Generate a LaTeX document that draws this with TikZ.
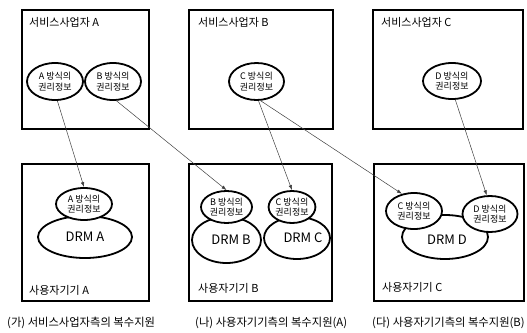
\documentclass[tikz,border=0pt]{standalone}
\usepackage{fontspec}
\setmainfont{Noto Sans CJK KR}
\usetikzlibrary{shapes.geometric,arrows.meta}
\tikzset{
  box/.style={draw, line width=1.9pt, rectangle, inner sep=0pt},
  lbl/.style={anchor=west, inner sep=0pt, font=\fontsize{11}{12}\selectfont},
  captext/.style={anchor=west, inner sep=0pt, font=\fontsize{11.3}{13}\selectfont},
  info/.style={draw, ellipse, line width=1.8pt, fill=white, inner sep=0pt, align=center,
    font=\fontsize{9}{10.5}\selectfont},
  drm/.style={draw, ellipse, line width=1.8pt, fill=white, inner sep=0pt},
  drmtext/.style={font=\fontsize{13}{15}\selectfont, inner sep=0pt},
  link/.style={draw=black!75, line width=0.5pt, -{Latex[length=5pt,width=3.5pt]}}
}
\begin{document}
\begin{tikzpicture}[x=1pt,y=-1pt]
\useasboundingbox (0,0) rectangle (527,332);
% top boxes
\node[box, minimum width=127pt, minimum height=119pt] (sA) at (85.5,69.5) {};
\node[box, minimum width=144pt, minimum height=119pt] (sB) at (261,69.5) {};
\node[box, minimum width=150pt, minimum height=119pt] (sC) at (448,69.5) {};
\node[lbl] (lsA) at (29,22) {서비스사업자 A};
\node[lbl] (lsB) at (198,22) {서비스사업자 B};
\node[lbl] (lsC) at (381,22) {서비스사업자 C};
\node[info, minimum width=56pt, minimum height=37pt] (tA) at (55,81.5) {A 방식의\\권리정보};
\node[info, minimum width=56pt, minimum height=37pt] (tB) at (113,81.5) {B 방식의\\권리정보};
\node[info, minimum width=55pt, minimum height=37pt] (tC) at (256.5,81.5) {C 방식의\\권리정보};
\node[info, minimum width=58pt, minimum height=36pt] (tD) at (452,81) {D 방식의\\권리정보};
% bottom boxes
\node[box, minimum width=127pt, minimum height=137pt] (uA) at (85.5,232.5) {};
\node[box, minimum width=143pt, minimum height=137pt] (uB) at (260.5,232.5) {};
\node[box, minimum width=150pt, minimum height=137pt] (uC) at (449,232.5) {};
\node[lbl] (luA) at (29,290) {사용자기기 A};
\node[lbl] (luB) at (198,288) {사용자기기 B};
\node[lbl] (luC) at (382,287) {사용자기기 C};
% device A
\node[drm, minimum width=94pt, minimum height=42pt] (dA) at (85,237) {};
\node[drmtext] (dAt) at (85,237) {DRM A};
\node[info, minimum width=56pt, minimum height=32pt] (bA) at (84,204) {A 방식의\\권리정보};
% device B
\node[drm, minimum width=69pt, minimum height=46pt] (dB) at (226.5,240) {};
\node[drmtext] (dBt) at (231,240) {DRM B};
\node[info, minimum width=51pt, minimum height=32pt] (bB) at (226.5,207) {B 방식의\\권리정보};
\node[drm, minimum width=66pt, minimum height=42pt] (dC) at (297,238) {};
\node[drmtext] (dCt) at (303,238) {DRM C};
\node[info, minimum width=46pt, minimum height=32pt] (bC) at (292,207) {C 방식의\\권리정보};
% device C
\node[drm, minimum width=86pt, minimum height=44pt] (dD) at (445,237) {};
\node[drmtext] (dDt) at (447,240) {DRM D};
\node[info, minimum width=56pt, minimum height=36pt] (cC) at (414,211) {C 방식의\\권리정보};
\node[info, minimum width=55pt, minimum height=36pt] (cD) at (490,214) {D 방식의\\권리정보};
% captions
\node[captext] (c1) at (7,323) {(가) 서비스사업자측의 복수지원};
\node[captext] (c2) at (195,323) {(나) 사용자기기측의 복수지원(A)};
\node[captext] (c3) at (372,323) {(다) 사용자기기측의 복수지원(B)};
% connectors
\draw[link] (tA.-83) -- (bA.north);
\draw[link] (tB.-80) -- (bB.north);
\draw[link] (tC.-84) -- (bC.north);
\draw[link] (tC.-78) -- (cC.125);
\draw[link] (tD.-80) -- (cD.100);
\end{tikzpicture}
\end{document}
